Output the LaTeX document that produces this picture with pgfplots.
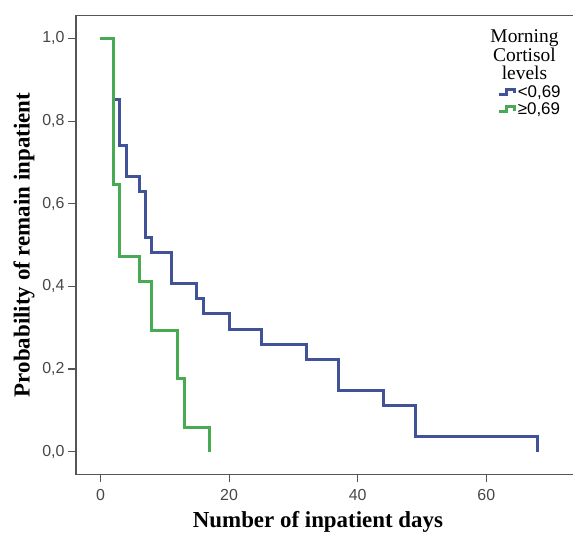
\documentclass[border=0pt]{standalone}
\usepackage{fontspec}
\setmainfont{Liberation Serif}
\newfontfamily\arial{Liberation Sans}
\usepackage{pgfplots}
\pgfplotsset{compat=1.18}
\definecolor{kmBlue}{RGB}{64,82,152}
\definecolor{kmGreen}{RGB}{72,170,82}
\definecolor{frameGray}{RGB}{85,85,85}

\begin{document}
\begin{tikzpicture}
\begin{axis}[
    name=ax,
    scale only axis,
    width=502bp, height=458.6bp,
    xmin=-3.81, xmax=74.26,
    ymin=-0.055, ymax=1.055,
    xtick={0,20,40,60},
    ytick={0,0.2,0.4,0.6,0.8,1.0},
    xtick pos=left, ytick pos=left,
    tick align=outside,
    major tick length=8bp,
    axis line style={frameGray, line width=1.3bp},
    tick style={frameGray, line width=1.1bp},
    tick label style={font=\arial\fontsize{16}{18}\selectfont, text=black!72},
    xticklabel style={yshift=-4bp},
    /pgf/number format/assume math mode=true,
    yticklabel style={/pgf/number format/.cd, fixed, fixed zerofill, precision=1, use comma},
    xlabel={Number of inpatient days},
    ylabel={Probability of remain inpatient},
    label style={font=\bfseries\fontsize{23}{26}\selectfont},
    xlabel style={at={(axis description cs:0.482,-0.103)}, anchor=center},
    ylabel style={at={(axis description cs:-0.1036,0.5)}, anchor=center},
    no markers,
    legend style={at={(axis description cs:0.8406,0.853)}, anchor=north west,
        draw=none, fill=none, inner sep=0pt, row sep=0bp,
        font=\arial\fontsize{17}{18}\selectfont,
        /tikz/every even column/.append style={column sep=2bp}},
    legend cell align=left,
    legend image code/.code={\draw[#1, line width=2.6bp]
        (0bp,-2.5bp) -- (7bp,-2.5bp) -- (7bp,2.5bp) -- (15bp,2.5bp) -- (15bp,-1.5bp);},
]
% <0,69  (n = 27)
\addplot[const plot, kmBlue, line width=3bp] coordinates {
    (0,1) (2,0.852) (3,0.741) (4,0.667) (6,0.630) (7,0.519) (8,0.481)
    (11,0.407) (15,0.370) (16,0.333) (20,0.296) (25,0.259) (32,0.222)
    (37,0.148) (44,0.111) (49,0.037) (68,0)
};
\addlegendentry{<0,69}
% >=0,69  (n = 17)
\addplot[const plot, kmGreen, line width=3bp] coordinates {
    (0,1) (2,0.647) (3,0.471) (6,0.412) (8,0.294) (12,0.176) (13,0.059) (17,0)
};
\addlegendentry{≥0,69}
\node[align=center, font=\fontsize{19.5}{18.5}\selectfont, inner sep=0pt]
    at (axis description cs:0.8934,0.9145) {Morning\\Cortisol\\levels};
\end{axis}
\pgfresetboundingbox
\path ([xshift=-76bp,yshift=-59.7bp]ax.south west) rectangle ([xshift=-5bp,yshift=15.7bp]ax.north east);
\end{tikzpicture}
\end{document}
